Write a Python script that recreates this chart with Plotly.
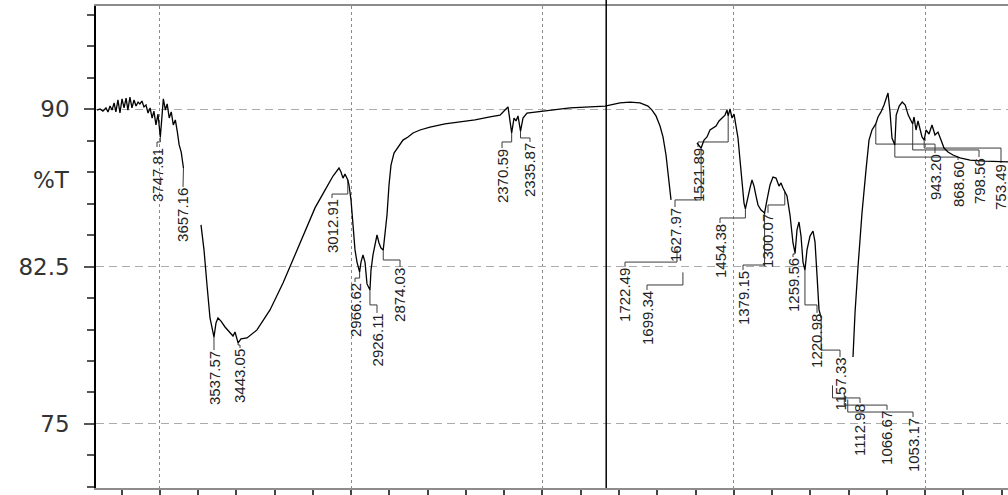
import plotly.graph_objects as go

# ---- FTIR transmittance trace (wavenumber in cm-1, %T); drawn in pieces ----
wn_a = [3996, 3984, 3973, 3961, 3953, 3945, 3937, 3929, 3922, 3914, 3906, 3898,
        3890, 3882, 3875, 3867, 3859, 3851, 3843, 3835, 3828, 3820, 3812, 3804,
        3796, 3788, 3780, 3773, 3765, 3757, 3747.81, 3740, 3736, 3728, 3721,
        3713, 3705, 3697, 3689, 3681, 3674, 3666, 3657.16]
t_a = [89.95, 90.00, 89.90, 90.05, 89.86, 90.14, 89.95, 90.29, 89.86, 90.43,
       89.81, 90.48, 90.05, 90.52, 89.95, 90.57, 90.05, 90.43, 90.14, 90.33,
       90.24, 90.38, 90.10, 90.19, 89.81, 90.05, 89.57, 89.90, 89.24, 89.76,
       88.67, 90.14, 90.48, 89.95, 90.24, 89.57, 89.86, 89.24, 89.48, 88.90,
       88.29, 87.95, 87.19]

wn_b = [3588.4, 3576.6, 3564.9, 3553.1, 3537.57, 3529.6, 3521.8, 3510.0, 3494.3,
        3478.6, 3462.9, 3455.1, 3443.05, 3431.6, 3408.1, 3368.9, 3317.9, 3266.9,
        3219.9, 3180.7, 3141.5, 3102.3, 3070.9, 3047.4, 3039.6, 3031.8, 3023.9,
        3012.91, 3008.2, 3000.4, 2992.6, 2984.7, 2976.9, 2966.62, 2961.2, 2953.4,
        2945.5, 2937.7, 2926.11, 2922.0, 2914.2, 2906.3, 2898.5, 2890.6, 2882.8,
        2874.03, 2867.1, 2859.3, 2851.4, 2843.6, 2831.8, 2816.2, 2796.6, 2776.9,
        2757.3, 2729.9, 2690.7, 2631.9, 2573.1, 2514.3, 2455.5, 2416.3, 2396.7,
        2384.9, 2370.59, 2361.4, 2353.6, 2345.8, 2335.87, 2326.2, 2310.5, 2279.1,
        2220.3, 2141.9, 2063.5, 2004.7, 1945.9, 1906.7, 1867.5, 1836.2, 1820.5,
        1804.8, 1789.1, 1777.4, 1765.6, 1757.8, 1746.0]
t_b = [84.48, 83.29, 81.62, 80.05, 79.14, 79.81, 80.05, 79.90, 79.62, 79.38,
       79.19, 79.38, 78.86, 79.05, 79.10, 79.48, 80.43, 81.71, 83.05, 84.24,
       85.29, 86.14, 86.81, 87.19, 87.00, 86.71, 86.90, 86.62, 86.38, 85.67,
       84.48, 83.29, 82.71, 82.24, 82.71, 83.05, 82.71, 81.67, 81.38, 82.33,
       83.05, 83.52, 84.00, 83.62, 83.38, 83.29, 84.00, 84.95, 86.38, 87.33,
       87.90, 88.19, 88.52, 88.67, 88.86, 89.00, 89.14, 89.29, 89.38, 89.48,
       89.62, 89.71, 89.95, 90.10, 88.86, 89.57, 89.43, 89.67, 88.95, 89.57,
       89.81, 89.86, 89.95, 90.05, 90.10, 90.14, 90.29, 90.33, 90.29, 90.14,
       89.95, 89.67, 89.19, 88.67, 87.81, 87.00, 85.67]

wn_c = [1644.1, 1632.3, 1627.97, 1616.6, 1604.9, 1593.1, 1581.4, 1569.6, 1557.8,
        1546.1, 1534.3, 1526.5, 1521.89, 1514.7, 1506.9, 1499.0, 1491.2, 1483.4,
        1475.5, 1467.7, 1459.8, 1454.38, 1444.2, 1436.3, 1428.5, 1420.6, 1412.8,
        1405.0, 1393.2, 1379.15, 1369.7, 1358.0, 1346.2, 1334.4, 1322.7, 1314.8,
        1307.0, 1300.07, 1291.3, 1279.5, 1267.8, 1259.56, 1252.1, 1244.2, 1236.4,
        1228.6, 1220.98, 1212.9, 1201.1, 1189.4, 1181.5, 1173.7, 1165.8, 1157.33]
t_c = [88.38, 88.19, 88.14, 88.52, 88.67, 89.00, 89.10, 89.19, 89.43, 89.57,
       89.71, 89.95, 89.67, 90.00, 89.57, 89.76, 89.19, 88.62, 87.57, 86.38,
       85.52, 85.24, 85.86, 86.24, 86.62, 86.33, 85.86, 85.43, 85.19, 85.05,
       85.67, 86.38, 86.76, 86.71, 86.33, 86.48, 86.24, 86.05, 85.86, 84.95,
       83.62, 83.14, 84.24, 84.62, 83.95, 82.71, 82.33, 83.29, 83.95, 84.19,
       83.67, 82.10, 80.43, 80.05]

wn_d = [1032.6, 1024.7, 1013.0, 997.3, 981.6, 969.8, 958.1, 943.20, 934.6, 922.8,
        911.0, 903.2, 895.4, 887.5, 879.7, 868.60, 863.2, 851.4, 839.6, 827.9,
        816.1, 804.4, 798.56, 793.4, 785.6, 777.8, 769.9, 762.1, 753.49, 746.4,
        734.6, 722.9, 711.1, 699.4, 687.6, 675.8, 660.2, 640.6, 613.1, 573.9,
        515.1, 456.3, 425.0]
t_d = [78.19, 80.29, 82.48, 85.05, 87.10, 88.52, 89.00, 89.29, 89.62, 89.86,
       90.19, 90.52, 90.76, 89.86, 88.62, 88.29, 89.71, 90.14, 90.33, 90.19,
       89.71, 89.43, 89.29, 89.62, 89.00, 89.43, 89.05, 88.67, 88.52, 89.00,
       88.81, 89.24, 88.76, 88.90, 88.52, 88.14, 87.95, 87.81, 87.67, 87.57,
       87.52, 87.48, 87.48]

# ---- Peak picks (cm-1) ----
peaks = [3747.81, 3657.16, 3537.57, 3443.05, 3012.91, 2966.62, 2926.11, 2874.03,
         2370.59, 2335.87, 1722.49, 1699.34, 1627.97, 1521.89, 1454.38, 1379.15,
         1300.07, 1259.56, 1220.98, 1157.33, 1112.98, 1066.67, 1053.17, 943.20,
         868.60, 798.56, 753.49]

# ---- Peak-label placement: text x (cm-1), text top (%T), leader elbow (%T) ----
label_x = [3760.9, 3658.9, 3537.4, 3435.5, 3074.9, 2984.7, 2898.5, 2808.3,
           2408.5, 2298.7, 1926.3, 1840.1, 1730.3, 1640.2, 1553.9, 1463.8,
           1365.8, 1267.8, 1173.7, 1083.5, 1005.1, 899.3, 797.3, 711.1,
           620.9, 538.6, 452.4]
label_top = [88.19, 86.29, 78.52, 78.62, 85.76, 81.76, 80.29, 82.48,
             88.14, 88.43, 82.48, 81.38, 85.33, 88.19, 84.57, 82.33,
             85.05, 82.95, 80.29, 78.19, 76.00, 75.67, 75.33, 87.90,
             87.57, 87.71, 87.43]
label_elbow = [88.43, 86.48, 78.76, 78.76, 85.95, 81.95, 80.67, 82.81,
               88.43, 88.62, 82.71, 81.62, 85.67, 88.43, 84.81, 82.57,
               85.43, 83.10, 80.67, 78.52, 76.24, 75.90, 75.57, 88.33,
               87.71, 88.05, 88.14]

segments = [(wn_a, t_a), (wn_b, t_b), (wn_c, t_c), (wn_d, t_d)]

# join the pieces with gaps
cx, cy = [], []
for w, t in segments:
    cx += list(w) + [None]
    cy += list(t) + [None]


def trace_value(v):
    for w, t in segments:
        if v in w:
            return t[w.index(v)]
    return None


# leader lines from each label up to its band on the trace
lx, ly = [], []
for p, xl, yt, ye in zip(peaks, label_x, label_top, label_elbow):
    tip = trace_value(p)
    if tip is None:
        tip = ye + 0.6
    lx += [xl, xl, p, p, None]
    ly += [yt, ye, ye, tip, None]

fig = go.Figure()
fig.add_trace(go.Scatter(x=lx, y=ly, mode="lines",
                         line=dict(color="#3a3a3a", width=1),
                         hoverinfo="skip", showlegend=False))
fig.add_trace(go.Scatter(x=cx, y=cy, mode="lines",
                         line=dict(color="black", width=1.3),
                         connectgaps=False, showlegend=False))

label_font = dict(family="Liberation Sans, Arial, sans-serif", size=15, color="#222")
for p, xl, yt in zip(peaks, label_x, label_top):
    fig.add_annotation(x=xl, y=yt, xref="x", yref="y", text=f"{p:.2f}",
                       textangle=-90, showarrow=False, xanchor="center",
                       yanchor="top", font=label_font, borderpad=0)

fig.add_annotation(x=72, y=86.6, xref="paper", yref="y", text="%T",
                   showarrow=False, xanchor="right", yanchor="middle",
                   font=dict(family="DejaVu Sans, sans-serif", size=23, color="#333"))
# fix %T x position in pixels relative to the plot's left edge
fig.layout.annotations[-1].x = (72 - 96) / 912

# 2000 cm-1 marker line
fig.add_shape(type="line", xref="x", yref="paper", x0=2000, x1=2000,
              y0=0, y1=1.013, line=dict(color="black", width=1.5))

fig.update_layout(
    width=1008, height=495,
    margin=dict(l=96, r=0, t=6, b=7),
    paper_bgcolor="white", plot_bgcolor="white",
    showlegend=False,
    xaxis=dict(
        range=[4000, 425], tickmode="array",
        tickvals=[3750, 3000, 2250, 1500, 750],
        showticklabels=False, ticks="outside", ticklen=7, tickcolor="#444",
        tickwidth=1.5,
        minor=dict(dtick=150, tick0=0, ticks="outside", ticklen=7,
                   tickcolor="#444", tickwidth=1.5, showgrid=False),
        showgrid=True, gridcolor="#8a8a8a", griddash="3px,3px", gridwidth=1,
        showline=True, linecolor="#8c8c8c", linewidth=2, mirror=True,
        zeroline=False,
    ),
    yaxis=dict(
        range=[71.952, 94.905], tickmode="array",
        tickvals=[75, 82.5, 90], ticktext=["75", "82.5", "90"],
        ticks="outside", ticklen=10, tickcolor="#555", tickwidth=1.5,
        ticklabelstandoff=10,
        tickfont=dict(family="DejaVu Sans, sans-serif", size=23, color="#333"),
        minor=dict(dtick=1.5, tick0=72, ticks="outside", ticklen=7,
                   tickcolor="#555", tickwidth=1.5, showgrid=False),
        showgrid=True, gridcolor="#ababab", griddash="8px,5px", gridwidth=1,
        showline=True, linecolor="black", linewidth=1.5, mirror=False,
        zeroline=False,
    ),
)

fig.write_html("out.html")
